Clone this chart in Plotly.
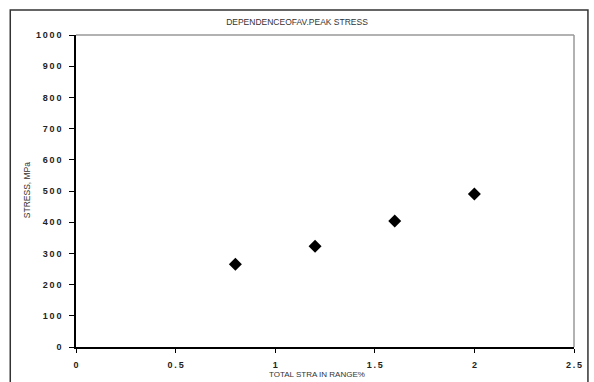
import plotly.graph_objects as go

strain_range = [0.8, 1.2, 1.6, 2.0]
peak_stress = [265, 323, 404, 490]
x_ticks = [0, 0.5, 1, 1.5, 2, 2.5]
y_ticks = [0, 100, 200, 300, 400, 500, 600, 700, 800, 900, 1000]

W, H = 594, 382
L, R, T, B = 76, 18, 35, 35
pw, ph = W - L - R, H - T - B

def px(x):
    return (x - L) / pw

def py(y):
    return (H - B - y) / ph

def spaced(v):
    return "\u2009".join(str(v))

fig = go.Figure()
fig.add_trace(go.Scatter(
    x=strain_range, y=peak_stress, mode="markers",
    marker=dict(symbol="diamond", size=10, color="black"),
    showlegend=False, cliponaxis=False,
))

tick_font = dict(family="Liberation Sans", size=9, color="#222", weight="bold")
fig.update_layout(
    width=W, height=H,
    margin=dict(l=L, r=R, t=T, b=B),
    paper_bgcolor="white", plot_bgcolor="white",
    title=dict(text="DEPENDENCEOFAV.PEAK STRESS", x=px(326), xanchor="center",
               y=1 - 22 / H, yanchor="middle",
               font=dict(family="Liberation Sans Narrow, Liberation Sans", size=8.5, color="#333")),
    xaxis=dict(range=[0, 2.5], tickvals=x_ticks, ticktext=[spaced(v) for v in x_ticks],
               showgrid=False, zeroline=False, showline=True, linecolor="black", linewidth=1.5,
               ticks="outside", ticklen=4, tickcolor="black", tickwidth=1,
               ticklabelstandoff=4,
               tickfont=tick_font, fixedrange=True),
    yaxis=dict(range=[0, 1000], tickvals=y_ticks, ticktext=[spaced(v) for v in y_ticks],
               showgrid=False, zeroline=False, showline=True, linecolor="black", linewidth=1.5,
               ticks="outside", ticklen=5, tickcolor="black", tickwidth=1,
               ticklabelstandoff=6,
               tickfont=tick_font, fixedrange=True),
)

# grey top/right frame of the plot area
fig.add_shape(type="line", xref="paper", yref="paper", x0=0, x1=1, y0=1, y1=1,
              line=dict(color="#999", width=1.5))
fig.add_shape(type="line", xref="paper", yref="paper", x0=1, x1=1, y0=0, y1=1,
              line=dict(color="#999", width=1.5))
# outer chart border
fig.add_shape(type="rect", xref="paper", yref="paper",
              x0=px(10), x1=px(590), y0=py(395), y1=py(10),
              line=dict(color="#333", width=1.5), layer="below")

fig.add_annotation(text="TOTAL STRA IN RANGE%", xref="paper", yref="paper",
                   x=px(318), y=py(375), showarrow=False, xanchor="center", yanchor="middle",
                   font=dict(family="Liberation Sans Narrow, Liberation Sans", size=8, color="#333"))
fig.add_annotation(text="STRESS, MPa", xref="paper", yref="paper",
                   x=px(27), y=py(190), showarrow=False, textangle=-90,
                   xanchor="center", yanchor="middle",
                   font=dict(family="Liberation Sans Narrow, Liberation Sans", size=8.5, color="#333"))

fig.write_html("out.html")
